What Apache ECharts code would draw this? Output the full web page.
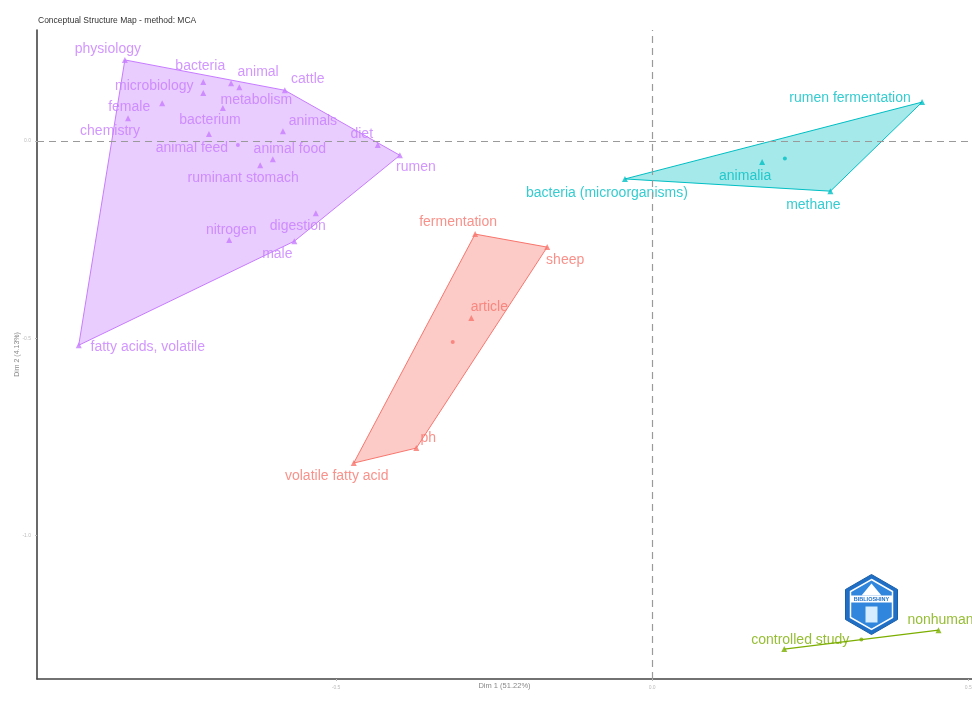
<!DOCTYPE html>
<html>
<head>
<meta charset="utf-8">
<script src="https://cdn.jsdelivr.net/npm/echarts@6/dist/echarts.min.js"></script>
<style>html,body{margin:0;padding:0;background:#fff}#chart{width:972px;height:702px}</style>
</head>
<body>
<div id="chart"></div>
<script>
// ---------- data ----------
const titleText = 'Conceptual Structure Map - method: MCA';
const xAxisName = 'Dim 1 (51.22%)';
const yAxisName = 'Dim 2 (4.13%)';
const xTicks = [-0.5, 0, 0.5];
const yTicks = [-1, -0.5, 0];

const purpleWords = ['physiology','bacteria','microbiology','animal','metabolism','cattle','female','bacterium','chemistry','animal feed','animals','diet','rumen','animal food','ruminant stomach','digestion','nitrogen','male','fatty acids, volatile'];
const purpleX = [-0.834,-0.710,-0.710,-0.666,-0.653,-0.581,-0.775,-0.679,-0.829,-0.701,-0.584,-0.434,-0.399,-0.600,-0.620,-0.532,-0.669,-0.566,-0.907];
const purpleY = [0.206,0.150,0.122,0.147,0.137,0.129,0.096,0.084,0.058,0.018,0.025,-0.010,-0.036,-0.046,-0.061,-0.183,-0.251,-0.254,-0.518];

const redWords = ['fermentation','sheep','article','ph','volatile fatty acid'];
const redX = [-0.280,-0.166,-0.286,-0.373,-0.472];
const redY = [-0.236,-0.269,-0.449,-0.779,-0.817];

const cyanWords = ['rumen fermentation','bacteria (microorganisms)','animalia','methane'];
const cyanX = [0.427,-0.043,0.174,0.282];
const cyanY = [0.099,-0.096,-0.053,-0.127];

const greenWords = ['controlled study','nonhuman'];
const greenX = [0.209,0.453];
const greenY = [-1.289,-1.241];

// ---------- label placement (pixel offsets, like ggrepel) ----------
const labelOffsets = {
  'physiology':[-17,-11],'bacteria':[-3,-16],'microbiology':[-49,-7],'animal':[27,-11],
  'metabolism':[17,13],'cattle':[23,-11],'female':[-33,4],'bacterium':[-13,12],
  'chemistry':[-18,13],'animal feed':[-17,14],'animals':[30,-10],'diet':[-16,-11],
  'rumen':[16,12],'animal food':[17,-10],'ruminant stomach':[-17,13],'digestion':[-18,13],
  'nitrogen':[2,-10],'male':[-17,13],'fatty acids, volatile':[69,2],
  'fermentation':[-17,-12],'sheep':[18,13],'article':[18,-11],'ph':[12,-10],'volatile fatty acid':[-17,13],
  'rumen fermentation':[-72,-4],'bacteria (microorganisms)':[-18,14],'animalia':[-17,14],'methane':[-17,14],
  'controlled study':[16,-9],'nonhuman':[2,-10]
};

const clusters = [
  {words: purpleWords, xs: purpleX, ys: purpleY, color: '#C77CFF', fill: 'rgba(199,124,255,0.38)'},
  {words: redWords, xs: redX, ys: redY, color: '#F8766D', fill: 'rgba(248,118,109,0.38)'},
  {words: cyanWords, xs: cyanX, ys: cyanY, color: '#00BFC4', fill: 'rgba(0,191,196,0.35)'},
  {words: greenWords, xs: greenX, ys: greenY, color: '#7CAE00', fill: 'rgba(124,174,0,0.35)'}
];

function hull(points) {
  const p = points.slice().sort((a,b)=>a[0]-b[0]||a[1]-b[1]);
  if (p.length < 3) return p;
  const cross=(o,a,b)=>(a[0]-o[0])*(b[1]-o[1])-(a[1]-o[1])*(b[0]-o[0]);
  const lower=[]; for (const pt of p){while(lower.length>=2&&cross(lower[lower.length-2],lower[lower.length-1],pt)<=0)lower.pop();lower.push(pt);}
  const upper=[]; for (let i=p.length-1;i>=0;i--){const pt=p[i];while(upper.length>=2&&cross(upper[upper.length-2],upper[upper.length-1],pt)<=0)upper.pop();upper.push(pt);}
  upper.pop(); lower.pop(); return lower.concat(upper);
}

const series = [];
clusters.forEach(c => {
  const pts = c.xs.map((x,i)=>[x, c.ys[i]]);
  const h = hull(pts);
  const cx = c.xs.reduce((a,b)=>a+b,0)/c.xs.length;
  const cy = c.ys.reduce((a,b)=>a+b,0)/c.ys.length;
  series.push({
    type: 'custom', silent: true, z: 1,
    data: [[cx, cy]],
    renderItem: (params, api) => {
      const poly = h.map(p => api.coord(p));
      if (poly.length < 3) {
        return {type:'polyline', shape:{points: poly}, style:{stroke: c.color, lineWidth: 1.2, fill: null}};
      }
      return {type:'polygon', shape:{points: poly}, style:{fill: c.fill, stroke: c.color, lineWidth: 1}};
    }
  });
  series.push({
    type: 'scatter', z: 3, symbol: 'triangle', symbolSize: 6,
    itemStyle: {color: c.color},
    label: {show: true, position: 'inside', formatter: '{b}',
      color: c.color, fontSize: 14, fontFamily: 'Liberation Sans', align: 'center', verticalAlign: 'middle'},
    labelLayout: (params) => {
      const o = labelOffsets[c.words[params.dataIndex]] || [0, -10];
      return {dx: o[0], dy: o[1], hideOverlap: false};
    },
    data: pts.map((p,i)=>({name: c.words[i], value: p}))
  });
  series.push({
    type: 'scatter', z: 3, symbol: 'circle', symbolSize: 4,
    itemStyle: {color: c.color},
    data: [[cx, cy]]
  });
});
// dashed reference lines
series.push({
  type: 'scatter', data: [], silent: true,
  markLine: {silent: true, symbol: 'none', label: {show: false},
    lineStyle: {color: '#9a9a9a', type: [7,5], width: 1.2},
    data: [{xAxis: 0}, {yAxis: 0}]}
});

const chart = echarts.init(document.getElementById('chart'), null, {renderer: 'canvas'});
chart.setOption({
  animation: false,
  backgroundColor: '#fff',
  title: {text: titleText, left: 33, top: 11, textStyle: {fontSize: 8.5, fontWeight: 'normal', color: '#333', fontFamily: 'Liberation Sans'}},
  grid: {left: 37, right: 0, top: 30, bottom: 23, containLabel: false, outerBoundsMode: 'none'},
  xAxis: {
    type: 'value', min: -0.973, max: 0.506,
    name: xAxisName, nameLocation: 'middle', nameGap: 3, nameMoveOverlap: false,
    nameTextStyle: {fontSize: 7.5, color: '#888', verticalAlign: 'top'},
    axisLine: {onZero: false, lineStyle: {color: '#444', width: 1.6}},
    axisTick: {show: true, customValues: xTicks, length: 2, lineStyle: {color: '#bbb'}},
    axisLabel: {customValues: xTicks, formatter: v => v.toFixed(1), fontSize: 5, color: '#bbb', margin: 6},
    splitLine: {show: false}
  },
  yAxis: {
    type: 'value', min: -1.365, max: 0.282,
    name: yAxisName, nameLocation: 'middle', nameGap: 16, nameRotate: 90, nameMoveOverlap: false,
    nameTextStyle: {fontSize: 7, color: '#888'},
    axisLine: {onZero: false, lineStyle: {color: '#444', width: 1.6}},
    axisTick: {show: true, customValues: yTicks, length: 2, lineStyle: {color: '#bbb'}},
    axisLabel: {customValues: yTicks, formatter: v => v.toFixed(1), fontSize: 5, color: '#bbb', margin: 6},
    splitLine: {show: false}
  },
  graphic: [{
    type: 'group', left: 845, top: 574,
    children: [
      {type: 'polygon', shape: {points: [[26,0],[52,15],[52,45],[26,60],[0,45],[0,15]]}, style: {fill: '#1f6fc6', stroke: '#1a5fa8', lineWidth: 1}},
      {type: 'polygon', shape: {points: [[26,5],[47,17],[47,43],[26,55],[5,43],[5,17]]}, style: {fill: '#2f86dc', stroke: '#ffffff', lineWidth: 1.5}},
      {type: 'rect', shape: {x: 5, y: 21, width: 42, height: 7}, style: {fill: '#ffffff'}},
      {type: 'text', style: {text: 'BIBLIOSHINY', x: 26, y: 24.5, align: 'center', verticalAlign: 'middle', fill: '#1f6fc6', fontSize: 5.5, fontWeight: 'bold'}},
      {type: 'rect', shape: {x: 20, y: 32, width: 12, height: 16}, style: {fill: '#d6ecff'}},
      {type: 'polygon', shape: {points: [[16,21],[26,9],[36,21]]}, style: {fill: '#ffffff'}}
    ]
  }],
  series: series
});
</script>
</body>
</html>
